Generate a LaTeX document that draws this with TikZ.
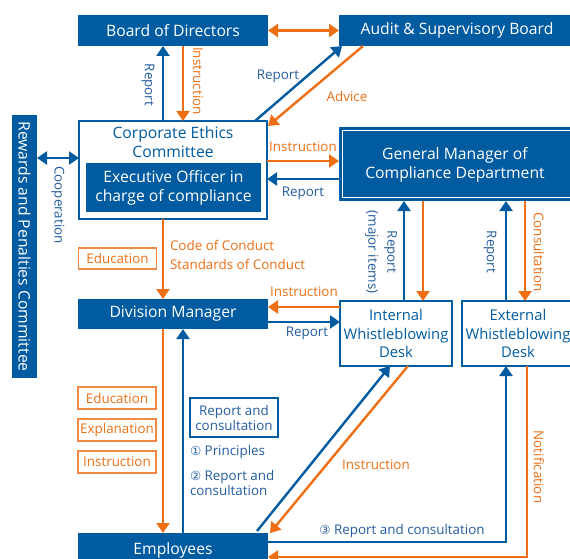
\documentclass[tikz,border=0pt]{standalone}
\usepackage{fontspec}
\setmainfont{Open Sans}
\newfontfamily\symfont{DejaVu Sans}
\usetikzlibrary{arrows.meta}
\definecolor{cblue}{RGB}{0,91,160}
\definecolor{tblue}{RGB}{35,92,158}
\definecolor{corange}{RGB}{238,110,20}
\newcommand\boxfont{\fontsize{15.7}{19}\selectfont}
\newcommand\deskfont{\fontsize{14.8}{18.5}\selectfont}
\newcommand\labfont{\fontsize{13.4}{19}\selectfont}
\newcommand\tightfont{\fontsize{13.4}{15}\selectfont}
\newcommand\circfont{\symfont\fontsize{12.5}{15}\selectfont}
\begin{document}
\begin{tikzpicture}[x=1pt,y=-1pt,
  every node/.style={inner sep=0pt, outer sep=0pt},
  darkbox/.style={fill=cblue, text=white, font=\boxfont, align=center},
  linebox/.style={draw=cblue, line width=2.4pt, fill=white, text=cblue, font=\boxfont, align=center},
  deskbox/.style={draw=cblue, line width=1.8pt, fill=white, text=cblue, font=\deskfont, align=center},
  tagbox/.style={draw=corange!80, line width=1.1pt, text=corange, font=\tightfont, minimum width=78pt, minimum height=22pt},
  blab/.style={text=tblue, font=\labfont, align=center},
  olab/.style={text=corange, font=\labfont, align=center},
  barrow/.style={draw=cblue, line width=2.4pt, -{Triangle[length=10pt,width=13pt]}},
  oarrow/.style={draw=corange, line width=2.4pt, -{Triangle[length=10pt,width=13pt]}},
  bboth/.style={draw=cblue, line width=2.4pt, {Triangle[length=10pt,width=13pt]}-{Triangle[length=10pt,width=13pt]}},
  oboth/.style={draw=corange, line width=2.4pt, {Triangle[length=10pt,width=13pt]}-{Triangle[length=10pt,width=13pt]}},
]
\useasboundingbox (0,0) rectangle (570,559);
\clip (0,0) rectangle (570,559);

% ---- boxes ----
\node[darkbox, minimum width=190pt, minimum height=31pt] (bod) at (173,30.5) {Board of Directors};
\node[darkbox, minimum width=236pt, minimum height=31pt] (asb) at (457,30.5) {Audit \& Supervisory Board};

\node[linebox, minimum width=188pt, minimum height=98pt] (cec) at (173,170) {};
\node[text=cblue, font=\boxfont, align=center] (cect) at (173,142.5) {Corporate Ethics\\Committee};
\node[darkbox, minimum width=175pt, minimum height=49pt] (eo) at (173.5,187.5) {Executive Officer in\\charge of compliance};

\node[darkbox, minimum width=263pt, minimum height=25pt, rotate=-90] (rpc) at (24.5,246.5) {Rewards and Penalties Committee};

\node[darkbox, minimum width=236pt, minimum height=74pt] (gm) at (457,164) {};
\draw[white, line width=1pt] ([shift={(3.5pt,-3.5pt)}]gm.north west) rectangle ([shift={(-3.5pt,3.5pt)}]gm.south east);
\node[text=white, font=\boxfont, align=center] (gmt) at (455,164.5) {General Manager of\\Compliance Department};

\node[darkbox, minimum width=190pt, minimum height=30pt] (dm) at (173,314) {Division Manager};
\node[deskbox, minimum width=112pt, minimum height=65pt] (iwd) at (396,333.5) {Internal\\Whistleblowing\\Desk};
\node[deskbox, minimum width=112pt, minimum height=65pt] (ewd) at (518,333.5) {External\\Whistleblowing\\Desk};
\node[darkbox, minimum width=190pt, minimum height=34pt] (emp) at (173,550) {Employees};

% ---- tag boxes and notes ----
\node[tagbox, minimum height=21pt] (tedu1) at (117.5,258.5) {Education};
\node[tagbox] (tedu2) at (117,398) {Education};
\node[tagbox] (texp) at (117,430) {Explanation};
\node[tagbox] (tins) at (117,462) {Instruction};
\node[draw=cblue, line width=1.1pt, text=tblue, font=\tightfont, align=center, minimum width=88pt, minimum height=39pt] (rcbox) at (234,417.5) {Report and\\consultation};
\node[blab, anchor=west] (p1) at (190,452.5) {{\circfont ①} Principles};
\node[text=tblue, font=\tightfont, align=left, anchor=west] (p2) at (190,482.5) {{\circfont ②} Report and\\consultation};

% ---- connectors ----
\draw[barrow] ([xshift=-10pt]cec.north) -- ([xshift=-10pt]bod.south);
\draw[oarrow] ([xshift=10pt]bod.south) -- ([xshift=10pt]cec.north);
\node[blab, rotate=-90] (lrep1) at (148,85) {Report};
\node[olab, rotate=-90] (lins1) at (198,81) {Instruction};

\draw[oboth] (bod.east) -- (asb.west);

\draw[barrow] ([xshift=-12pt]cec.north east) -- ([xshift=3pt]asb.south west);
\draw[oarrow] ([xshift=24pt]asb.south west) -- ([shift={(1pt,-5pt)}]cec.north east);
\node[blab] (lrep2) at (278,76) {Report};
\node[olab] (ladv) at (347,96) {Advice};

\draw[oarrow] ([yshift=9pt]cec.east) -- ([yshift=9pt]cec.east -| gm.west);
\draw[barrow] ([yshift=-9pt]cec.east -| gm.west) -- ([yshift=-9pt]cec.east);
\node[olab] (lins2) at (303,147) {Instruction};
\node[blab] (lrep3) at (303,193) {Report};

\draw[bboth] ([yshift=12pt]cec.west) -- ([yshift=12pt]cec.west -| rpc.north);
\node[blab, rotate=-90] (lcoop) at (58,205) {Cooperation};

\draw[oarrow] ([xshift=-10pt]cec.south) -- ([xshift=-10pt]dm.north);
\node[olab, align=left, anchor=west] (lcode) at (170,254.5) {Code of Conduct\\Standards of Conduct};

\draw[oarrow] ([yshift=7pt]dm.east -| iwd.west) -- ([yshift=7pt]dm.east);
\draw[barrow] ([yshift=-8pt]dm.east) -- ([yshift=-8pt]dm.east -| iwd.west);
\node[olab] (lins3) at (304,292) {Instruction};
\node[blab] (lrep4) at (307,333) {Report};

\draw[barrow] ([xshift=8pt]iwd.north) -- ([xshift=8pt]iwd.north |- gm.south);
\draw[oarrow] ([xshift=27pt]iwd.north |- gm.south) -- ([xshift=27pt]iwd.north);
\node[blab, rotate=-90] (lrep5) at (381,252) {Report\\(major items)};

\draw[barrow] ([xshift=-12pt]ewd.north) -- ([xshift=-12pt]ewd.north |- gm.south);
\draw[oarrow] ([xshift=7pt]ewd.north |- gm.south) -- ([xshift=7pt]ewd.north);
\node[blab, rotate=-90] (lrep6) at (490,252) {Report};
\node[olab, rotate=-90] (lcons) at (539,252) {Consultation};

\draw[oarrow] ([xshift=-10pt]dm.south) -- ([xshift=-10pt]emp.north);
\draw[barrow] ([xshift=10pt]emp.north) -- ([xshift=10pt]dm.south);

\draw[barrow] ([xshift=-11pt,yshift=2pt]emp.north east) -- ([xshift=-6pt]iwd.south);
\draw[oarrow] ([xshift=12pt]iwd.south) -- ([xshift=2pt]emp.north east);
\node[olab] (lins4) at (376,465) {Instruction};

\draw[barrow] ([yshift=8pt]emp.east) -| ([xshift=-12pt]ewd.south);
\draw[oarrow] ([xshift=9pt]ewd.south) |- ([yshift=-7pt]emp.east);
\node[blab] (lrc3) at (402,531) {{\circfont ③} Report and consultation};
\node[olab, rotate=-90] (lnot) at (539,467) {Notification};
\end{tikzpicture}
\end{document}
